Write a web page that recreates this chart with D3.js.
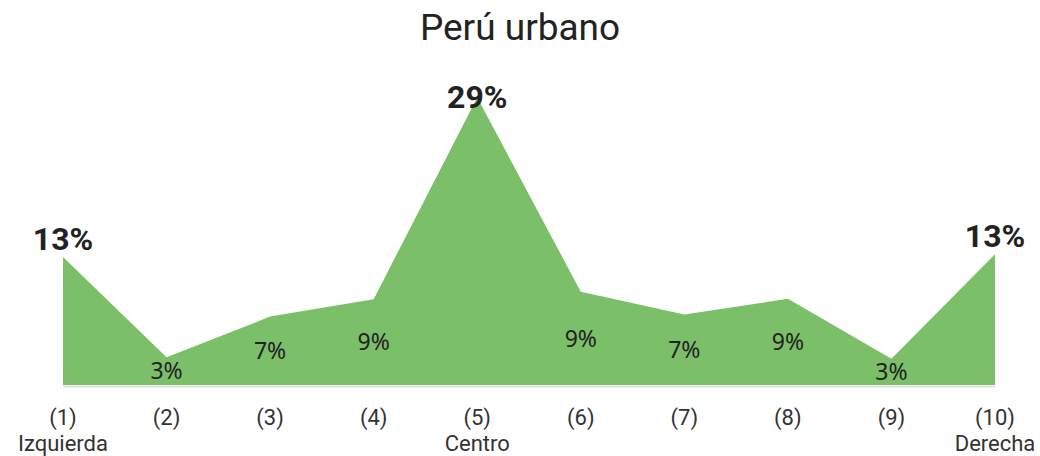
<!DOCTYPE html>
<html>
<head>
<meta charset="utf-8">
<script src="https://cdn.jsdelivr.net/npm/d3@7"></script>
<style>
  html, body { margin: 0; padding: 0; background: #fff; }
  svg { display: block; }
</style>
</head>
<body>
<svg id="chart" width="1040" height="456"></svg>
<script>
// Ideological self-placement, urban Peru (share of respondents, %)
const categories = ["(1)", "(2)", "(3)", "(4)", "(5)", "(6)", "(7)", "(8)", "(9)", "(10)"];
const subLabels = ["Izquierda", "", "", "", "Centro", "", "", "", "", "Derecha"];
const values = [12.9, 2.8, 6.9, 8.65, 29.0, 9.4, 7.1, 8.7, 2.65, 13.2];
const title = "Perú urbano";
const highlighted = ["(1)", "(5)", "(10)"];

const W = 1040, H = 456;
const plot = { left: 63, right: 995, top: 97.5, bottom: 385 };

const svg = d3.select("#chart");
const fmt = v => d3.format(".0f")(v) + "%";

const x = d3.scalePoint().domain(categories).range([plot.left, plot.right]);
const y = d3.scaleLinear().domain([0, d3.max(values)]).range([plot.bottom, plot.top]);

const data = categories.map((c, i) => ({ cat: c, sub: subLabels[i], v: values[i] }));

// Title
svg.append("text")
  .attr("x", W / 2).attr("y", 40)
  .attr("text-anchor", "middle")
  .attr("font-family", "Roboto, sans-serif")
  .attr("font-size", 37)
  .attr("fill", "#222")
  .text(title);

// Baseline
svg.append("line")
  .attr("x1", plot.left).attr("x2", plot.right)
  .attr("y1", y(0) + 1.5).attr("y2", y(0) + 1.5)
  .attr("stroke", "#e0e0e0").attr("stroke-width", 2);

// Area
const area = d3.area()
  .x(d => x(d.cat))
  .y0(y(0))
  .y1(d => y(d.v));

svg.append("path")
  .datum(data)
  .attr("d", area)
  .attr("fill", "#7cbf69");

// Regular value labels, centred inside the filled area
svg.append("g").selectAll("text")
  .data(data.filter(d => !highlighted.includes(d.cat)))
  .join("text")
  .attr("x", d => x(d.cat))
  .attr("y", d => (y(d.v) + y(0)) / 2 + 2)
  .attr("text-anchor", "middle")
  .attr("dominant-baseline", "middle")
  .attr("font-family", "'Noto Sans', sans-serif")
  .attr("font-size", 23)
  .attr("fill", "#222")
  .text(d => fmt(d.v));

// Emphasised labels above the extremes and the peak (kept below the title)
svg.append("g").selectAll("text")
  .data(data.filter(d => highlighted.includes(d.cat)))
  .join("text")
  .attr("x", d => x(d.cat))
  .attr("y", d => Math.max(y(d.v) - 7, 108))
  .attr("text-anchor", "middle")
  .attr("font-family", "Roboto, sans-serif")
  .attr("font-weight", "bold")
  .attr("font-size", 32)
  .attr("fill", "#222")
  .text(d => fmt(d.v));

// Category axis: number on the first line, optional descriptor on the second
const axis = svg.append("g").attr("font-family", "Roboto, sans-serif").attr("font-size", 22).attr("fill", "#333");
const tick = axis.selectAll("text")
  .data(data)
  .join("text")
  .attr("x", d => x(d.cat))
  .attr("y", 425)
  .attr("text-anchor", "middle");
tick.append("tspan")
  .attr("x", d => x(d.cat))
  .text(d => d.cat);
tick.filter(d => d.sub).append("tspan")
  .attr("x", d => x(d.cat))
  .attr("dy", 26)
  .text(d => d.sub);
</script>
</body>
</html>
